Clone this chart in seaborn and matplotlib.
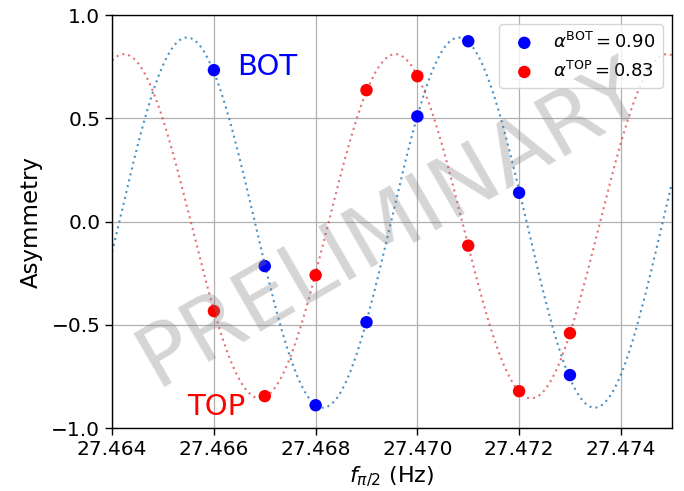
import numpy as np
import pandas as pd
import matplotlib
matplotlib.use("Agg")
import matplotlib.pyplot as plt
import seaborn as sns

# ---- data ----
freq = [27.466, 27.467, 27.468, 27.469, 27.470, 27.471, 27.472, 27.473]
asym_bot = [0.734, -0.215, -0.889, -0.487, 0.510, 0.874, 0.140, -0.743]
asym_top = [-0.433, -0.845, -0.259, 0.637, 0.705, -0.116, -0.821, -0.540]
legend_labels = [r"$\alpha^{\rm BOT} = 0.90$", r"$\alpha^{\rm TOP} = 0.83$"]
x_ticks = [27.464, 27.466, 27.468, 27.470, 27.472, 27.474]
y_ticks = [-1.0, -0.5, 0.0, 0.5, 1.0]


def sine_fit(x, y, grid):
    """Least-squares fit y = c + a cos(2pi x/P) + b sin(2pi x/P) over a period grid."""
    x0 = x[0]
    xs = np.asarray(x) - x0
    y = np.asarray(y)
    best = None
    for P in grid:
        w = 2 * np.pi / P
        M = np.column_stack([np.ones_like(xs), np.cos(w * xs), np.sin(w * xs)])
        coef, *_ = np.linalg.lstsq(M, y, rcond=None)
        r = np.sum((M @ coef - y) ** 2)
        if best is None or r < best[0]:
            best = (r, P, coef)
    _, P, coef = best
    return lambda t: (coef[0] + coef[1] * np.cos(2 * np.pi * (t - x0) / P)
                      + coef[2] * np.sin(2 * np.pi * (t - x0) / P))


period_grid = np.linspace(0.0045, 0.0065, 4001)
fit_bot = sine_fit(freq, asym_bot, period_grid)
fit_top = sine_fit(freq, asym_top, period_grid)

x_fine = np.linspace(27.464, 27.475, 600)
df_pts = pd.DataFrame({"f": freq, "bot": asym_bot, "top": asym_top})
df_fit = pd.DataFrame({"f": x_fine, "bot": fit_bot(x_fine), "top": fit_top(x_fine)})

sns.set_theme(style="ticks", rc={
    "axes.grid": True,
    "grid.color": "#b0b0b0",
    "grid.linewidth": 0.9,
    "axes.edgecolor": "black",
    "axes.linewidth": 1.0,
    "xtick.color": "black",
    "ytick.color": "black",
    "axes.labelcolor": "black",
    "text.color": "black",
})
plt.rcParams["font.family"] = ["DejaVu Sans"]
plt.rcParams["mathtext.fontset"] = "dejavusans"

fig, ax = plt.subplots(figsize=(6.84, 4.91), dpi=100)
fig.subplots_adjust(left=0.164, right=0.982, bottom=0.128, top=0.969)

dot_style = (0, (1, 1.9))
sns.lineplot(data=df_fit, x="f", y="bot", ax=ax, color="tab:blue", linestyle=dot_style,
             linewidth=1.5, alpha=0.8, legend=False)
sns.lineplot(data=df_fit, x="f", y="top", ax=ax, color="tab:red", linestyle=dot_style,
             linewidth=1.5, alpha=0.65, legend=False)
sns.scatterplot(data=df_pts, x="f", y="bot", ax=ax, color="blue", s=80,
                edgecolor="none", label=legend_labels[0], zorder=5)
sns.scatterplot(data=df_pts, x="f", y="top", ax=ax, color="red", s=80,
                edgecolor="none", label=legend_labels[1], zorder=5)

ax.set_xlim(27.464, 27.475)
ax.set_ylim(-1.0, 1.0)
ax.set_xticks(x_ticks)
ax.set_xticklabels([f"{v:.3f}" for v in x_ticks])
ax.set_yticks(y_ticks)
ax.set_yticklabels([f"{v:.1f}".replace("-", "\u2212") for v in y_ticks])
ax.tick_params(labelsize=14.5, length=5, width=1, direction="out")
ax.set_xlabel(r"$f_{\pi/2}$ (Hz)", fontsize=16, labelpad=4)
ax.set_ylabel("Asymmetry", fontsize=16.5, labelpad=6)

ax.text(27.46645, 0.709, "BOT", color="blue", fontsize=21, va="baseline", ha="left")
ax.text(27.46547, -0.937, "TOP", color="red", fontsize=21, va="baseline", ha="left")

leg = ax.legend(loc="upper right", fontsize=13, frameon=True, framealpha=0.8,
                edgecolor="#cccccc", handletextpad=0.6, borderpad=0.4,
                markerscale=1.0)

fig.text(0.572, 0.542, "PRELIMINARY", fontsize=62, color="gray", alpha=0.33,
         rotation=30, ha="center", va="center", zorder=10)

fig.savefig("out.png", dpi=100)
